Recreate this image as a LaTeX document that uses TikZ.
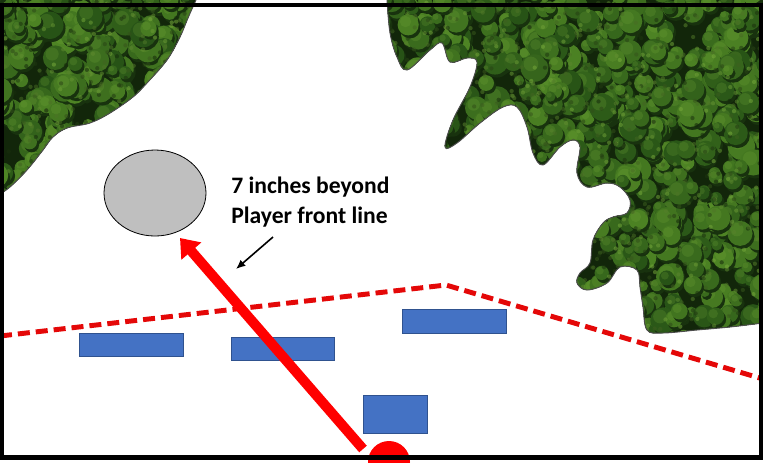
\documentclass[tikz,border=0pt]{standalone}
\usepackage{fontspec}
\setmainfont{Carlito}
\usetikzlibrary{arrows.meta,shapes.geometric}
\definecolor{fdark}{RGB}{18,38,10}
\definecolor{fshadow}{RGB}{24,50,14}
\definecolor{fmid}{RGB}{38,82,22}
\definecolor{flight}{RGB}{78,132,36}
\definecolor{fhi}{RGB}{118,170,58}
\definecolor{boxblue}{RGB}{68,114,196}
\definecolor{boxedge}{RGB}{47,82,143}
\definecolor{linered}{RGB}{228,8,8}
\definecolor{targetgray}{RGB}{191,191,191}
\tikzset{
  player/.style={draw=boxedge, fill=boxblue, line width=0.6pt, inner sep=0pt, outer sep=0pt, anchor=north west},
  frontline/.style={linered, line width=3.7pt, dash pattern=on 9pt off 4.5pt},
  throwline/.style={red, line width=7.5pt, -{Triangle[length=13pt,width=19pt]}},
  pointer/.style={black, line width=1.2pt, -{Latex[length=7pt,width=6pt]}},
  forestedge/.style={black!70, line width=0.7pt},
  notetext/.style={font=\bfseries\fontsize{17.7}{22.3}\selectfont, align=left, inner sep=0pt, anchor=north west},
}
\newcommand\treefill[5]{% x0 y0 w h n
  \foreach \i in {1,...,#5}{
    \pgfmathsetmacro\tx{#1+rnd*#3}
    \pgfmathsetmacro\ty{#2+rnd*#4}
    \pgfmathsetmacro\tr{5+rnd*9}
    \pgfmathsetmacro\tp{int(rnd*100)}
    \fill[fshadow] (\tx+2,\ty+3) circle[radius=\tr*0.75pt];
    \fill[fmid!\tp!flight] (\tx,\ty) circle[radius=\tr*0.75pt];
    \fill[fhi, opacity=0.22] (\tx-\tr*0.25,\ty-\tr*0.3) circle[radius=\tr*0.4pt];
  }
}
\newcommand\leaffill[5]{% x0 y0 w h n : small specks for texture
  \foreach \i in {1,...,#5}{
    \pgfmathsetmacro\tx{#1+rnd*#3}
    \pgfmathsetmacro\ty{#2+rnd*#4}
    \pgfmathsetmacro\tp{int(rnd*100)}
    \fill[fdark!\tp!fhi, opacity=0.55] (\tx,\ty) circle[radius=1.6pt];
  }
}
\begin{document}
\begin{tikzpicture}[x=0.75pt,y=-0.75pt]
\useasboundingbox (0,0) rectangle (763,462);
\fill[white] (0,0) rectangle (763,462);
\pgfmathsetseed{11}
% left forest
\begin{scope}
\clip (0,0) -- (196,0) -- plot[smooth,tension=0.6] coordinates {(196,0) (188,18) (180,37) (167,60) (147,83) (133,97) (110,113) (90,123) (67,128) (53,137) (43,150) (27,170) (10,187) (0,194)} -- cycle;
\fill[fdark] (0,0) rectangle (200,200);
\treefill{-10}{-10}{215}{215}{300}
\leaffill{0}{0}{200}{200}{350}
\end{scope}
\draw[forestedge] plot[smooth,tension=0.6] coordinates {(196,0) (188,18) (180,37) (167,60) (147,83) (133,97) (110,113) (90,123) (67,128) (53,137) (43,150) (27,170) (10,187) (0,194)};
% right forest
\begin{scope}
\clip plot[smooth,tension=0.6] coordinates {(387,0) (390,33) (397,57) (407,70) (430,50) (442,43) (450,62) (467,58) (477,62) (470,87) (453,120) (445,147) (457,143) (480,123) (503,107) (517,107) (527,127) (533,153) (543,165) (560,147) (573,140) (580,147) (577,173) (587,187) (607,183) (620,187) (630,200) (627,213) (613,217) (603,223) (593,240) (590,263) (580,273) (577,283) (587,290) (607,283) (620,267) (637,270) (640,287) (643,307) (647,330) (663,333) (697,330) (730,327) (763,323)} -- (763,0) -- cycle;
\fill[fdark] (380,0) rectangle (763,340);
\treefill{375}{-10}{400}{355}{800}
\leaffill{380}{0}{383}{340}{1000}
\end{scope}
\draw[forestedge] plot[smooth,tension=0.6] coordinates {(387,0) (390,33) (397,57) (407,70) (430,50) (442,43) (450,62) (467,58) (477,62) (470,87) (453,120) (445,147) (457,143) (480,123) (503,107) (517,107) (527,127) (533,153) (543,165) (560,147) (573,140) (580,147) (577,173) (587,187) (607,183) (620,187) (630,200) (627,213) (613,217) (603,223) (593,240) (590,263) (580,273) (577,283) (587,290) (607,283) (620,267) (637,270) (640,287) (643,307) (647,330) (663,333) (697,330) (730,327) (763,323)};
% front line
\coordinate (fl1) at (0,336);
\coordinate (fl2) at (446,285);
\coordinate (fl3) at (763,379);
\draw[frontline] (fl1) -- (fl2) -- (fl3);
% players
\node[player, minimum width=78pt, minimum height=17.25pt] (p1) at (79,333) {};
\node[player, minimum width=77.25pt, minimum height=17.25pt] (p2) at (231,337) {};
\node[player, minimum width=78pt, minimum height=18pt] (p3) at (402,309) {};
\node[player, minimum width=48pt, minimum height=28.5pt] (p4) at (363,395) {};
% target
\node[draw, fill=targetgray, ellipse, line width=0.6pt, inner sep=0pt, minimum width=76.5pt, minimum height=64.5pt] (target) at (155,193) {};
% label
\node[notetext] (note) at (231,177) {7 inches beyond\\Player front line};
\coordinate (aS) at (273,237);
\coordinate (aE) at (236,269);
\draw[pointer] (aS) -- (aE);
% throw
\coordinate (rstart) at (363,449);
\coordinate (rtip) at (180,238);
\draw[throwline] (rstart) -- (rtip);
\node[circle, fill=red, inner sep=0pt, minimum size=31.5pt] (dot) at (389,462) {};
% frame
\draw[black, line width=3.4pt] (2,5) rectangle (761,457.5);
\end{tikzpicture}
\end{document}
